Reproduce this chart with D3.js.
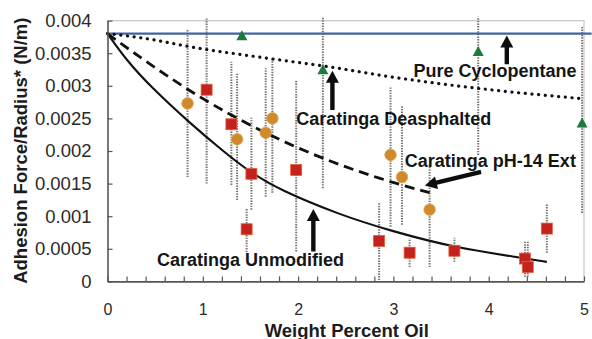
<!DOCTYPE html>
<html>
<head>
<meta charset="utf-8">
<script src="https://cdn.jsdelivr.net/npm/d3@7"></script>
<style>
  body { margin: 0; background: #fff; }
  svg text { font-family: "Liberation Sans", Arial, sans-serif; }
</style>
</head>
<body>
<svg id="chart" width="592" height="339"></svg>
<script>
// pure cyclopentane (green triangles)
const cycloX = [1.41, 2.26, 3.89, 4.98];
const cycloY = [0.00376, 0.00324, 0.00352, 0.00242];
const cycloLo = [0.00376, 0.00143, 0.00194, 0.00105];
const cycloHi = [0.00376, 0.00406, 0.00406, 0.00390];

// unmodified (red squares)
const unmodX = [1.04, 1.30, 1.51, 1.46, 1.98, 2.85, 3.17, 3.64, 4.38, 4.41, 4.61];
const unmodY = [0.00294, 0.00241, 0.00165, 0.00080, 0.00171, 0.00062, 0.00044, 0.00047, 0.00035, 0.00022, 0.00081];
const unmodLo = [0.00150, 0.00148, 0.00110, 0.00045, 0.00046, 0.00002, 0.00022, 0.00030, 0.00007, 0.00007, 0.00044];
const unmodHi = [0.00405, 0.00337, 0.00251, 0.00113, 0.00309, 0.00120, 0.00066, 0.00067, 0.00061, 0.00061, 0.00120];

// pH-14 extract (orange circles)
const phX = [0.84, 1.36, 1.73, 1.66, 2.97, 3.09, 3.38];
const phY = [0.00273, 0.00218, 0.00250, 0.00228, 0.00194, 0.00160, 0.00110];
const phLo = [0.00160, 0.00125, 0.00136, 0.00130, 0.00084, 0.00087, 0.00022];
const phHi = [0.00386, 0.00319, 0.00342, 0.00327, 0.00298, 0.00270, 0.00178];

// fitted curves
const cycloLine = [[0, 0.0038], [5.08, 0.0038]];
const deasphCurve = [[0, 0.0038], [0.38, 0.00373], [0.9, 0.00359], [1.74, 0.00341], [2.33, 0.00329], [2.96, 0.00314], [3.89, 0.00296], [5, 0.0028]];
const phCurve = [[0, 0.0038], [0.38, 0.0034], [0.97, 0.00283], [1.7, 0.00225], [2.26, 0.00189], [2.86, 0.00158], [3.38, 0.00136]];
const unmodCurve = [[0, 0.0038], [0.2, 0.00339], [0.45, 0.00299], [0.87, 0.00242], [1.22, 0.00199], [1.5, 0.00167], [1.81, 0.0014], [2.44, 0.00102], [2.96, 0.00078], [3.66, 0.00051], [4.36, 0.00036], [4.61, 0.0003]];

const yTicks = [0, 0.0005, 0.001, 0.0015, 0.002, 0.0025, 0.003, 0.0035, 0.004];
const yTickLabels = ["0", "0.0005", "0.001", "0.0015", "0.002", "0.0025", "0.003", "0.0035", "0.004"];
const xTickLabels = ["0", "1", "2", "3", "4", "5"];

const notes = [
  { text: "Pure Cyclopentane", tx: 3.21, ty: 0.00313, from: [4.19, 0.00333], to: [4.19, 0.00377] },
  { text: "Caratinga Deasphalted", tx: 1.98, ty: 0.0024, from: [2.36, 0.00263], to: [2.36, 0.00323] },
  { text: "Caratinga pH-14 Ext", tx: 3.12, ty: 0.00176, from: [3.92, 0.00168], to: [3.33, 0.00147] },
  { text: "Caratinga Unmodified", tx: 0.52, ty: 0.000236, from: [2.16, 0.00046], to: [2.16, 0.00111] }
];

const svg = d3.select("#chart");
const x = d3.scaleLinear().domain([0, 5]).range([107.5, 584]);
const y = d3.scaleLinear().domain([0, 0.004]).range([281.4, 20.6]);

// light frame top/right
svg.append("path")
  .attr("d", `M${x(0)},${y(0.004)}H${x(5)}V${y(0)}`)
  .attr("fill", "none").attr("stroke", "#cdc5c1").attr("stroke-width", 1.2);

// error bars
const bars = [];
cycloX.forEach((v, i) => bars.push([v, cycloLo[i], cycloHi[i]]));
unmodX.forEach((v, i) => bars.push([v, unmodLo[i], unmodHi[i]]));
phX.forEach((v, i) => bars.push([v, phLo[i], phHi[i]]));
svg.append("g").selectAll("line")
  .data(bars.filter(b => b[1] !== b[2]))
  .join("line")
  .attr("x1", d => x(d[0])).attr("x2", d => x(d[0]))
  .attr("y1", d => y(d[1])).attr("y2", d => y(d[2]))
  .attr("stroke", "#767270").attr("stroke-width", 2).attr("stroke-dasharray", "1.4,1.2");

// fitted lines
const line = d3.line().x(d => x(d[0])).y(d => y(d[1])).curve(d3.curveMonotoneX);
svg.append("path").attr("d", line(cycloLine))
  .attr("fill", "none").attr("stroke", "#41649f").attr("stroke-width", 2.3);
svg.append("path").attr("d", line(deasphCurve))
  .attr("fill", "none").attr("stroke", "#111").attr("stroke-width", 3.2)
  .attr("stroke-linecap", "round").attr("stroke-dasharray", "0.1,6.6");
svg.append("path").attr("d", line(phCurve))
  .attr("fill", "none").attr("stroke", "#111").attr("stroke-width", 2.8)
  .attr("stroke-dasharray", "10,6");
svg.append("path").attr("d", d3.line().x(d => x(d[0])).y(d => y(d[1])).curve(d3.curveBasis)(unmodCurve))
  .attr("fill", "none").attr("stroke", "#111").attr("stroke-width", 2.1);

// markers
svg.append("g").selectAll("rect")
  .data(unmodX.map((v, i) => [v, unmodY[i]]))
  .join("rect")
  .attr("x", d => x(d[0]) - 5.5).attr("y", d => y(d[1]) - 5.5)
  .attr("width", 11).attr("height", 11)
  .attr("fill", "#c3221e").attr("stroke", "#e0603c").attr("stroke-width", 0.8);
svg.append("g").selectAll("circle")
  .data(phX.map((v, i) => [v, phY[i]]))
  .join("circle")
  .attr("cx", d => x(d[0])).attr("cy", d => y(d[1])).attr("r", 5.8)
  .attr("fill", "#cf8a2c").attr("stroke", "#e0a858").attr("stroke-width", 0.8);
svg.append("g").selectAll("path")
  .data(cycloX.map((v, i) => [v, cycloY[i]]))
  .join("path")
  .attr("d", d => `M${x(d[0])},${y(d[1]) - 6}l5.5,10h-11z`)
  .attr("fill", "#1c7a3c");

// axes
const yAxis = d3.axisLeft(y).tickValues(yTicks)
  .tickFormat((d, i) => yTickLabels[i]).tickSizeInner(-5).tickSizeOuter(0).tickPadding(16);
const yg = svg.append("g").attr("transform", `translate(${x(0)},0)`).call(yAxis);
yg.selectAll("text").attr("font-size", 18.5).attr("fill", "#2a2a2a");

const xAxis = d3.axisBottom(x).tickValues(d3.range(0, 5.001, 0.2))
  .tickFormat(d => Math.abs(d - Math.round(d)) < 1e-6 ? xTickLabels[Math.round(d)] : "")
  .tickSizeInner(-5).tickSizeOuter(0).tickPadding(22);
const xg = svg.append("g").attr("transform", `translate(0,${y(0)})`).call(xAxis);
xg.selectAll("text").attr("font-size", 16).attr("fill", "#2a2a2a");

[yg, xg].forEach(g => {
  g.select(".domain").attr("stroke", "#5b5452").attr("stroke-width", 1.6);
  g.selectAll(".tick line").attr("stroke", "#5b5452").attr("stroke-width", 1.2);
});

// axis titles
svg.append("text")
  .attr("transform", `translate(27,${(y(0) + 10) / 2 + 5}) rotate(-90)`)
  .attr("text-anchor", "middle").attr("font-weight", "bold").attr("font-size", 18.5)
  .attr("fill", "#1c1c1c")
  .text("Adhesion Force/Radius* (N/m)");
svg.append("text")
  .attr("x", (x(0) + x(5)) / 2 + 1).attr("y", 336.5)
  .attr("text-anchor", "middle").attr("font-weight", "bold").attr("font-size", 18.5)
  .attr("fill", "#1c1c1c")
  .text("Weight Percent Oil");

// annotations with arrows
function arrow(p0, p1) {
  const [x0, y0] = p0, [x1, y1] = p1;
  const dx = x1 - x0, dy = y1 - y0, L = Math.hypot(dx, dy);
  const ux = dx / L, uy = dy / L, nx = -uy, ny = ux;
  const hl = 12, hw = 6.5, sw = 2.2;
  const bx = x1 - ux * hl, by = y1 - uy * hl;
  return [
    [x0 + nx * sw, y0 + ny * sw], [bx + nx * sw, by + ny * sw], [bx + nx * hw, by + ny * hw],
    [x1, y1], [bx - nx * hw, by - ny * hw], [bx - nx * sw, by - ny * sw], [x0 - nx * sw, y0 - ny * sw]
  ];
}
const ng = svg.append("g");
notes.forEach(n => {
  ng.append("polygon")
    .attr("points", arrow([x(n.from[0]), y(n.from[1])], [x(n.to[0]), y(n.to[1])]).map(p => p.join(",")).join(" "))
    .attr("fill", "#0d0d0d");
  ng.append("text")
    .attr("x", x(n.tx)).attr("y", y(n.ty))
    .attr("font-weight", "bold").attr("font-size", 18).attr("fill", "#151515")
    .text(n.text);
});
</script>
</body>
</html>
